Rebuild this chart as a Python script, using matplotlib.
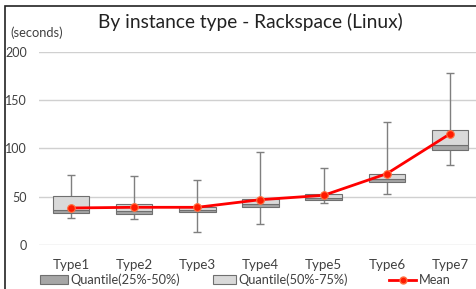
import numpy as np
import matplotlib
matplotlib.use("Agg")
import matplotlib.pyplot as plt
from matplotlib.patches import Patch, Rectangle
from matplotlib.lines import Line2D

plt.rcParams['font.family'] = ['Lato', 'DejaVu Sans']

types = ["Type1", "Type2", "Type3", "Type4", "Type5", "Type6", "Type7"]
low = [27.6, 27.0, 13.8, 21.4, 43.5, 53.0, 82.8]
q1 = [33.4, 32.4, 34.5, 39.3, 46.2, 65.0, 98.0]
median = [36.5, 35.0, 36.2, 42.0, 49.0, 68.0, 103.5]
q3 = [50.4, 42.0, 39.0, 47.6, 52.5, 73.5, 118.7]
high = [72.5, 71.8, 67.0, 96.6, 79.4, 127.0, 178.0]
mean = [38.3, 39.0, 39.0, 46.9, 51.4, 73.8, 115.0]
yticks = [0, 50, 100, 150, 200]

W, H = 476, 289
fig = plt.figure(figsize=(W / 100, H / 100), dpi=100)
ax = fig.add_axes([39.4 / W, (H - 245) / H, 442.2 / W, 193.3 / H])

x = np.arange(len(types))
low = np.array(low); q1 = np.array(q1); median = np.array(median)
q3 = np.array(q3); high = np.array(high); mean = np.array(mean)

ax.errorbar(x, q1, yerr=[q1 - low, high - q1], fmt='none', ecolor='#7f7f7f',
            elinewidth=1.0, capsize=3, capthick=1.0, zorder=2)
ax.bar(x, median - q1, bottom=q1, width=0.58, color='#a6a6a6',
       edgecolor='#6f6f6f', linewidth=0.8, zorder=3)
ax.bar(x, q3 - median, bottom=median, width=0.58, color='#d9d9d9',
       edgecolor='#6f6f6f', linewidth=0.8, zorder=3)
ax.plot(x, mean, color='#ff0000', lw=2.0, marker='o', ms=5.5,
        markerfacecolor='#ff1a00', markeredgecolor='#ff7040', mew=0.8, zorder=4)

ax.set_xlim(-0.5, 6.5)
ax.set_ylim(0, 200)
ax.set_yticks(yticks)
ax.set_xticks(x)
ax.set_xticklabels(types)
ax.grid(axis='y', color='#d0d0d0', lw=1.0, zorder=0)
ax.set_axisbelow(True)
for s in ax.spines.values():
    s.set_visible(False)
ax.tick_params(length=0, labelsize=9.6, labelcolor='#404040')
ax.tick_params(axis='y', pad=9, labelsize=9)
ax.tick_params(axis='x', pad=10)

fig.text(0.526, (H - 22) / H, "By instance type - Rackspace (Linux)", ha='center',
         va='center', fontsize=13.8, color='#222222')
fig.text(10 / W, (H - 33) / H, "(seconds)", ha='left', va='center',
         fontsize=9.3, color='#404040')

# legend entries placed one by one
handles = [Patch(facecolor='#a6a6a6', edgecolor='#6f6f6f', lw=0.8),
           Patch(facecolor='#d9d9d9', edgecolor='#6f6f6f', lw=0.8),
           Line2D([], [], color='#ff0000', lw=2.0, marker='o', ms=5,
                  markerfacecolor='#ff1a00', markeredgecolor='#ff7040')]
labels = ["Quantile(25%-50%)", "Quantile(50%-75%)", "Mean"]
starts = [40, 213, 389]
hlens = [2.2, 1.8, 2.15]
for h, lab, sx, hl in zip(handles, labels, starts, hlens):
    fig.legend([h], [lab], loc='center left',
               bbox_to_anchor=(sx / W, (H - 280) / H), frameon=False,
               fontsize=9.2, handlelength=hl, handletextpad=0.15,
               borderpad=0, borderaxespad=0, labelcolor='#404040')

fig.patches.append(Rectangle((5 / W, -0.05), 1.2, (H - 6) / H + 0.05,
                             transform=fig.transFigure, fill=False,
                             edgecolor='#222222', lw=1.2))

fig.savefig("out.png", dpi=100)
